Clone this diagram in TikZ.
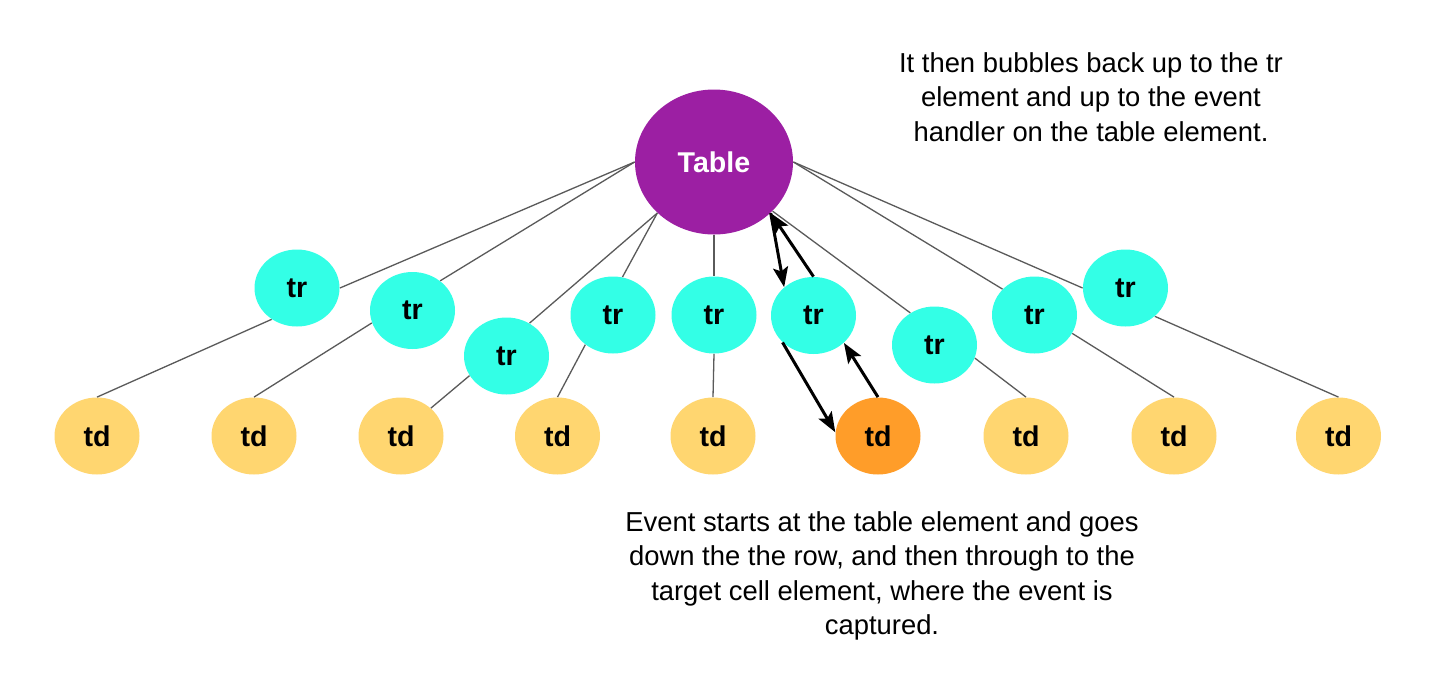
\documentclass[tikz,border=0pt]{standalone}
\usepackage{fontspec}
\setmainfont{Liberation Sans}
\usetikzlibrary{shapes.geometric,arrows.meta}
\definecolor{tablepurple}{RGB}{156,31,163}
\definecolor{trcyan}{RGB}{51,255,230}
\definecolor{tdyellow}{RGB}{255,214,112}
\definecolor{tdorange}{RGB}{255,157,41}
\definecolor{linegray}{RGB}{90,90,90}
\begin{document}
\begin{tikzpicture}[x=0.5pt,y=-0.5pt,
  bubble/.style={ellipse, inner sep=0pt, font=\fontsize{14.3}{16}\selectfont\bfseries},
  tablenode/.style={bubble, fill=tablepurple, text=white, minimum width=79pt, minimum height=72.5pt},
  trnode/.style={bubble, fill=trcyan, minimum width=42.5pt, minimum height=38.5pt},
  tdnode/.style={bubble, fill=tdyellow, minimum width=42.5pt, minimum height=38.5pt},
  tdhot/.style={tdnode, fill=tdorange},
  link/.style={draw=linegray, line width=0.65pt},
  flow/.style={draw=black, line width=1.5pt, -{Stealth[length=10pt,width=7.5pt,inset=2pt]}},
  note/.style={align=center, font=\fontsize{13.7}{17.25}\selectfont}
]
\fill[white] (0,0) rectangle (1436,676);
\useasboundingbox (0,0) rectangle (1436,676);

\node[tablenode] (table) at (714,162) {Table};

\node[trnode] (tr1) at (297,288) {tr};
\node[trnode] (tr2) at (412.5,310.5) {tr};
\node[trnode] (tr3) at (506.5,356) {tr};
\node[trnode] (tr4) at (613,315) {tr};
\node[trnode] (tr5) at (714,315) {tr};
\node[trnode] (tr6) at (813.5,315.5) {tr};
\node[trnode] (tr7) at (934.5,345) {tr};
\node[trnode] (tr8) at (1034.5,315) {tr};
\node[trnode] (tr9) at (1125.5,288) {tr};

\node[tdnode] (td1) at (97,436) {td};
\node[tdnode] (td2) at (254,436) {td};
\node[tdnode] (td3) at (401,436) {td};
\node[tdnode] (td4) at (557.5,436) {td};
\node[tdnode] (td5) at (713,436) {td};
\node[tdhot]  (td6) at (878,436) {td};
\node[tdnode] (td7) at (1026,436) {td};
\node[tdnode] (td8) at (1174,436) {td};
\node[tdnode] (td9) at (1338.5,436) {td};

% table to rows
\draw[link] (table.west) -- (tr1.east);
\draw[link] (table.west) -- (tr2.47);
\draw[link] (table.222) -- (tr3.55);
\draw[link] (table.222) -- (tr4.76);
\draw[link] (table.south) -- (tr5.north);
\draw[link] (table.320) -- (tr7.127);
\draw[link] (table.east) -- (tr8.141);
\draw[link] (table.east) -- (tr9.west);

% rows to cells
\draw[link] (tr1.231) -- (td1.north);
\draw[link] (tr2.197) -- (td2.north);
\draw[link] (tr3.208) -- (td3.43);
\draw[link] (tr4.227) -- (td4.north);
\draw[link] (tr5.south) -- (td5.north);
\draw[link] (tr7.342) -- (td7.north);
\draw[link] (tr8.334) -- (td8.north);
\draw[link] (tr9.316) -- (td9.north);

% event path
\draw[flow] (table.318) -- (tr6.136);
\draw[flow] (tr6.221) -- (td6.175);
\draw[flow] (td6.north) -- (tr6.318);
\draw[flow] (tr6.north) -- (table.318);

\node[note] (upnote) at (1091,97) {It then bubbles back up to the tr\\element and up to the event\\handler on the table element.};
\node[note] (downnote) at (882,576) {Event starts at the table element and goes\\down the the row, and then through to the\\target cell element, where the event is\\captured.};
\end{tikzpicture}
\end{document}
